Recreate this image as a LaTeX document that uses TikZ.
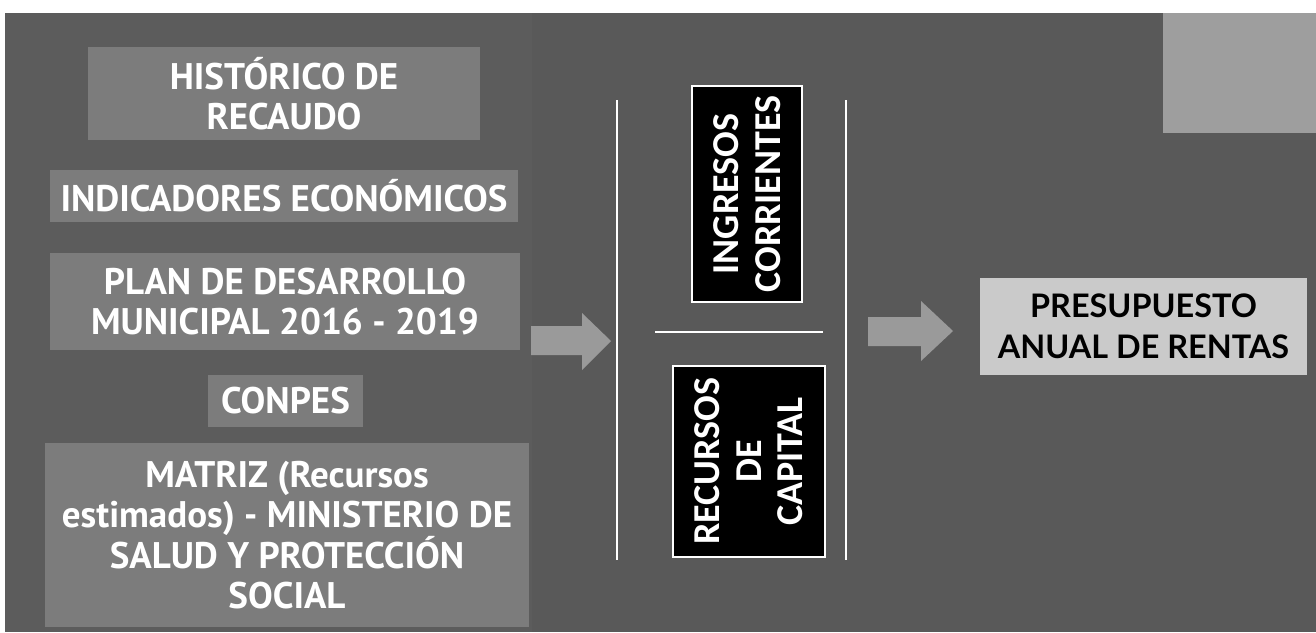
\documentclass[tikz,border=0pt]{standalone}
\usepackage{fontspec}
\setmainfont{PT Sans}
\newfontfamily\calfont{Carlito}
\newfontfamily\latofont{Lato}
\definecolor{bgdark}{HTML}{595959}
\definecolor{bgleft}{HTML}{5C5C5C}
\definecolor{leftbox}{HTML}{7C7C7C}
\definecolor{arrowgray}{HTML}{9A9A9A}
\definecolor{lightbox}{HTML}{CACACA}
\definecolor{cornerbox}{HTML}{9E9E9E}
\tikzset{
  leftitem/.style={rectangle, fill=leftbox, text=white, align=center, inner sep=0pt,
    font=\fontsize{18.5}{20.3}\selectfont\bfseries},
  blackitem/.style={rectangle, fill=black, draw=white, line width=1.2pt, inner sep=0pt},
  rottext/.style={rotate=90, text=white, align=center, inner sep=0pt,
    font=\calfont\fontsize{19}{20.8}\selectfont\bfseries},
  blockarrow/.style={fill=arrowgray, draw=none},
  whiteline/.style={draw=white, line width=1.4pt},
  resultbox/.style={rectangle, fill=lightbox, text=black, align=center, inner sep=0pt,
    font=\latofont\fontsize{16.2}{20.5}\selectfont\bfseries}
}
\begin{document}
\begin{tikzpicture}[x=0.5pt,y=-0.5pt]
\useasboundingbox (0,0) rectangle (1316,632);
% background
\fill[white] (0,0) rectangle (1316,632);
\fill[bgdark] (5,13) rectangle (1316,632);
\fill[bgleft] (5,13) rectangle (532,632);
\fill[cornerbox] (1163,13) rectangle (1316,133);
% left column
\node[leftitem, minimum width=196pt, minimum height=46.5pt] (hist) at (284,93.5) {HISTÓRICO DE\\RECAUDO};
\node[leftitem, minimum width=234pt, minimum height=26pt] (ind) at (284,196) {INDICADORES ECONÓMICOS};
\node[leftitem, minimum width=235pt, minimum height=48.5pt] (plan) at (285,301.5) {PLAN DE DESARROLLO\\MUNICIPAL 2016 - 2019};
\node[leftitem, minimum width=77.5pt, minimum height=26pt] (conpes) at (285.5,401) {CONPES};
\node[leftitem, minimum width=242pt, minimum height=92pt] (matriz) at (287,535) {MATRIZ (Recursos\\estimados) - MINISTERIO DE\\SALUD Y PROTECCIÓN\\SOCIAL};
% block arrows
\fill[blockarrow] (531,326) -- (582,326) -- (582,313) -- (611,341) -- (582,370) -- (582,355) -- (531,355) -- cycle;
\fill[blockarrow] (868,317) -- (921,317) -- (921,301) -- (953,331) -- (921,361) -- (921,346) -- (868,346) -- cycle;
% middle group
\coordinate (l1) at (617,100); \coordinate (l2) at (617,560);
\coordinate (r1) at (846,100); \coordinate (r2) at (846,560);
\coordinate (h1) at (655,332); \coordinate (h2) at (823,332);
\draw[whiteline] (l1) -- (l2);
\draw[whiteline] (r1) -- (r2);
\draw[whiteline] (h1) -- (h2);
\node[blackitem, minimum width=55pt, minimum height=108pt] (ing) at (747,194) {};
\node[rottext] (ingt) at (ing.center) {INGRESOS\\CORRIENTES};
\node[blackitem, minimum width=76pt, minimum height=95.5pt] (rec) at (749,461.5) {};
\node[rottext] (rect) at (rec.center) {RECURSOS\\DE\\CAPITAL};
% result
\node[resultbox, minimum width=163.5pt, minimum height=48.5pt] (pres) at (1143.5,326.5) {PRESUPUESTO\\ANUAL DE RENTAS};
\end{tikzpicture}
\end{document}
